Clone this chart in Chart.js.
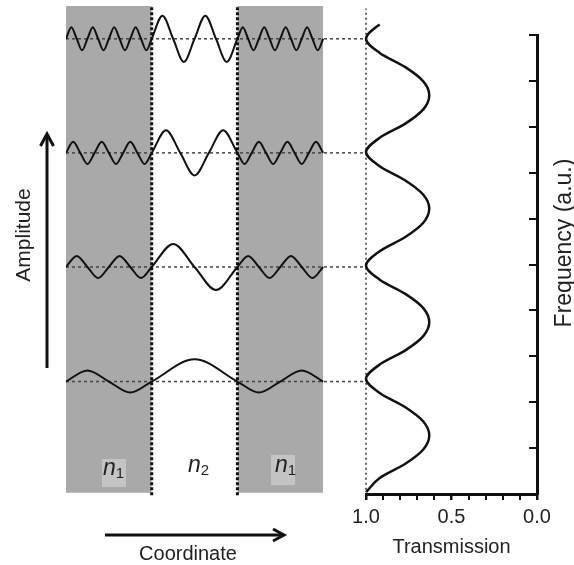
<!DOCTYPE html>
<html>
<head>
<meta charset="utf-8">
<script src="https://cdn.jsdelivr.net/npm/chart.js@4.4.1/dist/chart.umd.min.js"></script>
<style>
  body { margin: 0; background: #fff; }
  #wrap { position: relative; width: 574px; height: 565px; font-family: "Liberation Sans", Arial, sans-serif; color: #222; }
  #wrap canvas, #wrap svg { position: absolute; left: 0; top: 0; }
  .lbl { position: absolute; white-space: nowrap; line-height: 1; }
  .rot { transform: translate(-50%, -50%) rotate(-90deg); }
  .box { position: absolute; background: #c4c4c4; }
  .idx { font-size: 23px; }
  .idx i { font-style: italic; }
  .idx span { font-size: 15px; position: relative; top: 3px; }
</style>
</head>
<body>
<div id="wrap">
  <canvas id="modes" width="574" height="565"></canvas>
  <canvas id="trans" width="574" height="565"></canvas>
  <svg width="574" height="565">
    <line x1="47" y1="368" x2="47" y2="136" stroke="#111" stroke-width="3"/>
    <polyline points="40.5,146 47,134 53.5,146" fill="none" stroke="#111" stroke-width="3"/>
    <line x1="105" y1="535" x2="282" y2="535" stroke="#111" stroke-width="3"/>
    <polyline points="273,529 284,535 273,541" fill="none" stroke="#111" stroke-width="3"/>
  </svg>
  <div class="box" style="left:102px; top:459px; width:24px; height:28px"></div>
  <div class="box" style="left:271px; top:455px; width:24px; height:30px"></div>
  <div class="lbl idx" style="left:103px; top:456px"><i>n</i><span>1</span></div>
  <div class="lbl idx" style="left:188px; top:453px"><i>n</i><span>2</span></div>
  <div class="lbl idx" style="left:275px; top:453px"><i>n</i><span>1</span></div>
  <div class="lbl rot" style="left:22px; top:235px; font-size:21px">Amplitude</div>
  <div class="lbl rot" style="left:563px; top:243px; font-size:23px">Frequency (a.u.)</div>
  <div class="lbl" style="left:188px; top:543px; font-size:20px; transform: translateX(-50%)">Coordinate</div>
</div>
<script>
// layer boundaries along the coordinate axis: n1 | n2 | n1
const layerEdges = [0, 1, 2, 3];

// resonance frequencies where each mode sits (top mode first)
const modeLevels = [9.92, 7.45, 4.98, 2.50];

// field displacement sampled every quarter period inside each layer
const wave1Left  = [0, .25, 0, -.25, 0, .25, 0, -.25, 0, .25, 0, -.25, 0, .25, 0, -.25, 0];
const wave1Core  = [0, .5, 0, -.5, 0, .5, 0, -.5, 0];
const wave1Right = [0, .25, 0, -.25, 0, .25, 0, -.25, 0, .25, 0, -.25, 0, .25, 0, -.25, 0];

const wave2Left  = [0, .24, 0, -.24, 0, .24, 0, -.24, 0, .24, 0, -.24, 0];
const wave2Core  = [0, .49, 0, -.49, 0, .49, 0];
const wave2Right = [0, -.24, 0, .24, 0, -.24, 0, .24, 0, -.24, 0, .24, 0];

const wave3Left  = [0, .24, 0, -.24, 0, .24, 0, -.24, 0];
const wave3Core  = [0, .5, 0, -.5, 0];
const wave3Right = [0, .24, 0, -.24, 0, .24, 0, -.24, 0];

const wave4Left  = [0, .24, 0, -.24, 0];
const wave4Core  = [0, .48, 0];
const wave4Right = [0, -.24, 0, .24, 0];

// transmission spectrum of the slab
const transFreq = [0.04, 0.35, 0.66, 0.97, 1.28, 1.58, 1.89, 2.20, 2.51,
                   2.82, 3.13, 3.44, 3.74, 4.05, 4.36, 4.67, 4.98,
                   5.29, 5.60, 5.91, 6.22, 6.52, 6.83, 7.14, 7.45,
                   7.76, 8.07, 8.38, 8.69, 8.99, 9.30, 9.61, 9.92,
                   10.23, 10.54, 10.65];
const transValue = [1, .92, .77, .665, .63, .665, .77, .92, 1,
                    .92, .77, .665, .63, .665, .77, .92, 1,
                    .92, .77, .665, .63, .665, .77, .92, 1,
                    .92, .77, .665, .63, .665, .77, .92, 1,
                    .92, .77, .725];
const transTickLabels = [1.0, 0.5, 0.0];

Chart.defaults.font.family = '"Liberation Sans", Arial, sans-serif';
Chart.defaults.color = '#222';

const coordMax = 3.5;   // coordinate axis runs on to the spectrum's T = 1 line
const freqTop = 10.63;  // top of the layer stack
const stackBottom = 0.09;

function modePoints(level, parts) {
  const pts = [];
  parts.forEach((samples, k) => {
    const x0 = layerEdges[k], x1 = layerEdges[k + 1];
    samples.forEach((v, j) => {
      if (k > 0 && j === 0) return;
      pts.push({ x: x0 + (x1 - x0) * j / (samples.length - 1), y: level + v });
    });
  });
  return pts;
}

const waves = [
  [wave1Left, wave1Core, wave1Right],
  [wave2Left, wave2Core, wave2Right],
  [wave3Left, wave3Core, wave3Right],
  [wave4Left, wave4Core, wave4Right],
];

const modeSets = [];
waves.forEach((parts, i) => {
  modeSets.push({
    data: modePoints(modeLevels[i], parts),
    borderColor: '#111', borderWidth: 2, pointRadius: 0,
    cubicInterpolationMode: 'monotone', order: 0,
  });
  modeSets.push({
    data: [{ x: 0, y: modeLevels[i] }, { x: coordMax, y: modeLevels[i] }],
    borderColor: '#444', borderWidth: 1.5, borderDash: [3, 3], pointRadius: 0, order: 1,
  });
});

// interfaces between layers
[layerEdges[1], layerEdges[2]].forEach(x => {
  modeSets.push({
    data: [{ x: x, y: 0.04 }, { x: x, y: freqTop }],
    borderColor: '#111', borderWidth: 3, borderDash: [3, 2], pointRadius: 0, order: 2,
  });
});

// shaded n1 layers
[[layerEdges[0], layerEdges[1]], [layerEdges[2], layerEdges[3]]].forEach(([a, b]) => {
  modeSets.push({
    data: [{ x: a, y: freqTop }, { x: b, y: freqTop }],
    borderWidth: 0, pointRadius: 0,
    backgroundColor: '#a9a9a9', fill: { value: stackBottom }, order: 3,
  });
});

new Chart(document.getElementById('modes'), {
  type: 'line',
  data: { datasets: modeSets },
  options: {
    responsive: false,
    animation: false,
    events: [],
    layout: { padding: { left: 66, right: 208, top: 6, bottom: 68 } },
    plugins: { legend: { display: false }, tooltip: { enabled: false } },
    scales: {
      x: { type: 'linear', min: 0, max: coordMax, display: false },
      y: { type: 'linear', min: 0, max: freqTop, display: false },
    },
  },
});

new Chart(document.getElementById('trans'), {
  type: 'line',
  data: {
    datasets: [
      {
        data: transFreq.map((f, i) => ({ x: transValue[i], y: f })),
        borderColor: '#111', borderWidth: 2.5, pointRadius: 0,
        cubicInterpolationMode: 'monotone', clip: false,
      },
      {
        data: [{ x: 1, y: stackBottom }, { x: 1, y: 10.58 }],
        borderColor: '#333', borderWidth: 1.5, borderDash: [2, 3], pointRadius: 0, clip: false,
      },
    ],
  },
  options: {
    responsive: false,
    animation: false,
    events: [],
    indexAxis: 'y',
    layout: { padding: { left: 366, right: 33, top: 35, bottom: 6 } },
    plugins: { legend: { display: false }, tooltip: { enabled: false } },
    scales: {
      x: {
        type: 'linear', reverse: true, min: 0, max: 1, position: 'bottom',
        ticks: {
          stepSize: 0.1, autoSkip: false, maxRotation: 0, padding: 5,
          font: { size: 20 }, color: '#222',
          callback: v => transTickLabels.some(t => Math.abs(t - v) < 1e-6) ? v.toFixed(1) : '',
        },
        grid: {
          drawOnChartArea: false, drawTicks: true, tickLength: 6, color: '#111',
          lineWidth: ctx => (ctx.tick && Math.abs(ctx.tick.value * 2 - Math.round(ctx.tick.value * 2)) < 1e-6) ? 2.5 : 2,
        },
        border: { color: '#111', width: 3 },
        title: { display: true, text: 'Transmission', font: { size: 20 }, color: '#222', padding: { top: 1, bottom: 0 } },
      },
      y: {
        type: 'linear', position: 'right', min: 0, max: 10,
        ticks: { stepSize: 1, display: false },
        grid: { drawOnChartArea: false, drawTicks: true, tickLength: -8, color: '#111', lineWidth: 2 },
        border: { color: '#111', width: 3 },
        afterFit: s => { s.width = 4; },
      },
    },
  },
});
</script>
</body>
</html>
